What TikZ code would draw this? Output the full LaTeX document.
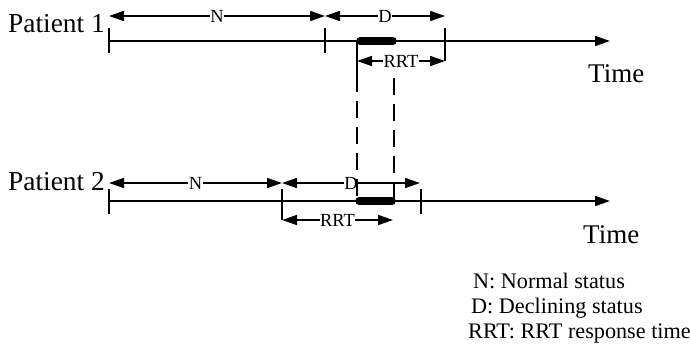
\documentclass[tikz,border=0pt]{standalone}
\usepackage{fontspec}
\setmainfont{Liberation Serif}
\usetikzlibrary{arrows.meta}
\begin{document}
\begin{tikzpicture}[x=1pt,y=-1pt,
  axis/.style={line width=1.7pt,-{Triangle[length=15pt,width=10pt]}},
  tickline/.style={line width=1.7pt},
  span/.style={line width=1.5pt,{Triangle[length=15pt,width=10pt]}-{Triangle[length=15pt,width=10pt]}},
  lab/.style={fill=white,inner sep=0.5pt,font=\fontsize{18.5}{18.5}\selectfont},
  bigtext/.style={anchor=base west,inner sep=0pt,font=\fontsize{27.4}{27.4}\selectfont},
  timetext/.style={anchor=base west,inner sep=0pt,font=\fontsize{27}{27}\selectfont},
  legend/.style={anchor=base west,inner sep=0pt,font=\fontsize{22.2}{22.2}\selectfont},
  barline/.style={line width=7.5pt,line cap=round},
  vdashed/.style={line width=1.7pt,dash pattern=on 17pt off 9pt}
]
\useasboundingbox (0,0) rectangle (690,345);

% ---------- Patient 1 ----------
\node[bigtext] (p1) at (8,33) {Patient 1};
\coordinate (a1s) at (109,41);
\coordinate (a1e) at (610,41);
\draw[axis] (a1s) -- (a1e);
\coordinate (t1a) at (109,28); \coordinate (t1ab) at (109,53);
\coordinate (t1b) at (325,28); \coordinate (t1bb) at (325,53);
\coordinate (t1c) at (445,28); \coordinate (t1cb) at (445,61);
\draw[tickline] (t1a) -- (t1ab);
\draw[tickline] (t1b) -- (t1bb);
\draw[tickline] (t1c) -- (t1cb);
\coordinate (n1s) at (109,16); \coordinate (n1e) at (325,16);
\coordinate (d1e) at (445,16);
\draw[span] (n1s) -- node[lab] (n1l) {N} (n1e);
\draw[span] (n1e) -- node[lab] (d1l) {D} (d1e);
\coordinate (r1s) at (357,61); \coordinate (r1e) at (445,61);
\draw[span] (r1s) -- node[lab] (r1l) {RRT} (r1e);
\coordinate (b1s) at (360,41); \coordinate (b1e) at (393,41);
\draw[barline] (b1s) -- (b1e);
\node[timetext] (time1) at (588,82) {Time};

% ---------- Patient 2 ----------
\node[bigtext] (p2) at (8,190) {Patient 2};
\coordinate (a2s) at (109,201);
\coordinate (a2e) at (610,201);
\draw[axis] (a2s) -- (a2e);
\coordinate (t2a) at (109,189); \coordinate (t2ab) at (109,214);
\coordinate (t2b) at (282,189); \coordinate (t2bb) at (282,220);
\coordinate (t2c) at (421,189); \coordinate (t2cb) at (421,214);
\draw[tickline] (t2a) -- (t2ab);
\draw[tickline] (t2b) -- (t2bb);
\draw[tickline] (t2c) -- (t2cb);
\coordinate (n2s) at (109,183); \coordinate (n2e) at (282,183);
\coordinate (d2e) at (420,183);
\draw[span] (n2s) -- node[lab] (n2l) {N} (n2e);
\draw[span] (n2e) -- node[lab] (d2l) {D} (d2e);
\coordinate (r2s) at (282,220); \coordinate (r2e) at (393,220);
\draw[span] (r2s) -- node[lab] (r2l) {RRT} (r2e);
\coordinate (b2s) at (359,201); \coordinate (b2e) at (392,201);
\draw[barline] (b2s) -- (b2e);
\node[timetext] (time2) at (583,243) {Time};

% ---------- connecting dashed lines ----------
\coordinate (vl1) at (357,41); \coordinate (vl2) at (357,92);
\coordinate (vl3) at (357,201);
\draw[tickline] (vl1) -- (vl2);
\draw[vdashed,dash phase=-9pt] (vl2) -- (vl3);
\coordinate (vr1) at (394,78); \coordinate (vr2) at (394,201);
\draw[vdashed] (vr1) -- (vr2);

% ---------- legend ----------
\node[legend] (lg1) at (473,288) {N: Normal status};
\node[legend] (lg2) at (471,313) {D: Declining status};
\node[legend] (lg3) at (468,338) {RRT: RRT response time};
\end{tikzpicture}
\end{document}
